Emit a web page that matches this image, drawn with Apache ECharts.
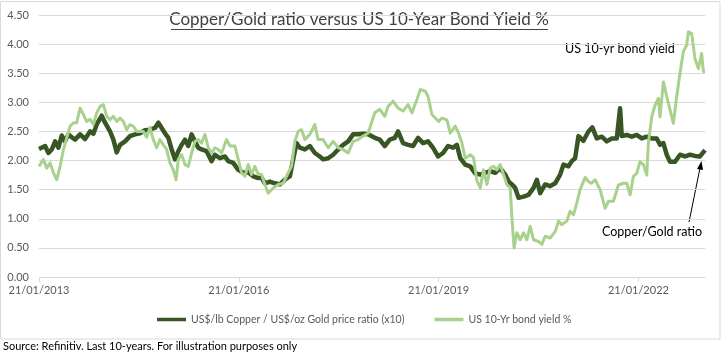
<!DOCTYPE html>
<html>
<head>
<meta charset="utf-8">
<script src="https://cdn.jsdelivr.net/npm/echarts@6/dist/echarts.min.js"></script>
<style>
html,body{margin:0;padding:0;background:#fff;}
#chart{width:725px;height:355px;}
</style>
</head>
<body>
<div id="chart"></div>
<script>
// x = months since 21/01/2013, y = value
const tickMonths = [0, 36, 72, 108];
const tickLabels = ['21/01/2013', '21/01/2016', '21/01/2019', '21/01/2022'];
const copperGoldRatio = [
  [0,2.2],[1.1,2.25],[1.7,2.13],[2.3,2.19],[2.9,2.33],[3.5,2.22],[4.1,2.43],[4.7,2.33],[5.3,2.45],[5.9,2.4],
  [6.5,2.36],[7.4,2.45],[8.3,2.37],[9.2,2.5],[9.8,2.46],[10.4,2.62],[11.3,2.77],[11.9,2.65],[12.8,2.5],[13.4,2.36],
  [14.0,2.14],[14.6,2.27],[15.5,2.33],[16.4,2.42],[17.3,2.45],[18.2,2.47],[19.1,2.52],[20.0,2.53],[20.9,2.56],[21.5,2.65],
  [22.1,2.56],[22.7,2.47],[23.3,2.39],[23.9,2.19],[24.5,2.02],[25.1,2.16],[25.7,2.27],[26.3,2.36],[26.9,2.25],[27.5,2.45],
  [28.1,2.33],[28.7,2.22],[29.3,2.19],[30.2,2.16],[31.1,1.99],[31.7,2.1],[32.6,2.04],[33.5,2.07],[34.1,1.99],[35.0,1.96],
  [35.9,1.84],[36.8,1.79],[37.7,1.8],[38.6,1.73],[39.5,1.7],[39.8,1.75],[40.7,1.61],[41.6,1.64],[42.5,1.61],[43.4,1.59],
  [44.3,1.67],[45.2,1.73],[45.8,2.02],[46.4,2.3],[47.0,2.22],[47.9,2.19],[48.8,2.25],[49.7,2.13],[50.6,2.07],[51.2,2.02],
  [52.1,2.04],[53.0,2.1],[53.9,2.19],[54.8,2.27],[55.7,2.33],[56.6,2.45],[57.5,2.45],[58.4,2.46],[59.3,2.45],[60.5,2.39],
  [61.4,2.36],[62.3,2.25],[63.2,2.36],[64.1,2.39],[64.7,2.5],[65.6,2.3],[66.5,2.27],[67.4,2.25],[68.3,2.39],[69.2,2.3],
  [70.1,2.33],[71.0,2.22],[71.9,2.07],[72.8,2.13],[73.7,2.25],[74.6,2.22],[75.3,2.27],[75.9,2.04],[76.8,1.93],[77.7,1.9],
  [78.6,1.78],[79.5,1.76],[80.4,1.79],[81.3,1.82],[82.2,1.79],[83.1,1.87],[84.0,1.76],[84.6,1.64],[85.2,1.59],[85.8,1.53],
  [86.4,1.36],[87.3,1.38],[88.2,1.41],[89.1,1.53],[89.7,1.67],[90.3,1.44],[91.2,1.59],[92.1,1.56],[93.0,1.61],[93.9,1.76],
  [94.5,1.93],[95.4,1.9],[96.0,1.99],[96.6,2.04],[97.2,2.42],[98.1,2.34],[99.0,2.5],[99.7,2.57],[100.5,2.38],[101.4,2.41],
  [102.3,2.33],[103.2,2.38],[104.1,2.38],[104.4,2.4],[104.7,2.9],[105.0,2.42],[105.9,2.44],[106.8,2.41],[107.7,2.44],[108.6,2.38],
  [109.5,2.41],[110.4,2.38],[111.3,2.38],[111.9,2.27],[112.5,2.3],[113.1,2.1],[113.7,1.98],[114.6,1.98],[115.5,2.1],[116.4,2.07],
  [117.3,2.1],[118.2,2.08],[119.1,2.07],[120.0,2.18]
];
const bondYield = [
  [0,1.9],[0.8,2.02],[1.4,1.87],[2.0,1.96],[2.6,1.79],[3.2,1.67],[3.8,1.9],[4.4,2.19],[5.0,2.39],[5.6,2.59],
  [6.2,2.65],[6.8,2.65],[7.4,2.9],[8.0,2.79],[8.6,2.67],[9.2,2.71],[9.8,2.62],[10.4,2.82],[11.0,2.93],[11.6,2.96],
  [12.2,2.76],[12.8,2.7],[13.4,2.76],[14.0,2.67],[14.6,2.73],[15.2,2.67],[15.8,2.53],[16.4,2.62],[17.0,2.59],[17.6,2.5],
  [18.2,2.5],[18.8,2.5],[19.4,2.4],[20.0,2.57],[20.6,2.36],[21.2,2.22],[21.8,2.36],[22.4,2.27],[23.0,2.19],[23.6,1.96],
  [24.2,1.84],[24.7,1.67],[25.1,2.02],[25.7,2.1],[26.3,1.93],[26.9,1.9],[27.5,2.13],[28.1,2.33],[28.7,2.36],[29.3,2.3],
  [29.9,2.45],[30.5,2.22],[31.1,2.13],[31.7,2.22],[32.3,2.19],[32.9,2.13],[33.8,2.36],[34.4,2.25],[35.3,2.25],[35.9,2.02],
  [36.5,1.79],[37.1,1.73],[37.7,1.93],[38.3,1.76],[38.9,1.9],[39.5,1.76],[40.1,1.76],[40.7,1.59],[41.3,1.44],[42.2,1.53],
  [43.1,1.59],[44.0,1.61],[44.9,1.79],[45.5,1.9],[46.1,2.33],[46.7,2.5],[47.3,2.53],[47.9,2.36],[48.8,2.45],[49.7,2.62],
  [50.3,2.36],[51.2,2.36],[52.1,2.22],[53.0,2.33],[53.9,2.22],[54.8,2.19],[55.7,2.13],[56.6,2.33],[57.5,2.36],[58.4,2.42],
  [59.3,2.47],[59.6,2.45],[60.5,2.82],[61.4,2.88],[62.3,2.76],[62.9,2.93],[63.8,3.02],[64.7,2.9],[65.6,2.85],[66.5,2.96],
  [67.2,2.82],[68.1,3.05],[68.7,3.22],[69.6,3.19],[70.1,3.1],[70.8,2.79],[71.4,2.73],[72.0,2.67],[72.6,2.73],[73.5,2.7],
  [74.1,2.47],[75.0,2.59],[75.6,2.47],[76.2,2.3],[76.8,2.04],[77.7,2.1],[78.3,2.05],[78.9,1.65],[79.5,1.53],[80.1,1.84],
  [80.7,1.59],[81.3,1.87],[81.9,1.9],[82.5,1.84],[83.1,1.93],[83.7,1.76],[84.3,1.59],[84.9,1.53],[85.2,1.04],[85.6,0.5],
  [86.1,0.76],[86.7,0.64],[87.3,0.76],[87.9,0.64],[88.5,0.87],[89.1,0.64],[90.0,0.61],[90.6,0.56],[91.2,0.7],[92.1,0.67],
  [93.0,0.78],[93.6,0.96],[94.2,0.9],[95.1,0.96],[95.7,1.13],[96.3,1.07],[96.9,1.27],[97.5,1.5],[98.4,1.71],[99.0,1.64],
  [99.5,1.61],[100.2,1.67],[101.1,1.5],[102.0,1.18],[102.6,1.3],[103.5,1.3],[104.4,1.58],[105.3,1.61],[105.9,1.61],[106.5,1.41],
  [107.1,1.73],[107.7,1.78],[108.3,1.98],[108.9,1.93],[109.5,1.75],[109.8,2.3],[110.4,2.75],[111.0,2.95],[111.6,3.07],[111.9,2.75],
  [112.5,3.35],[113.1,3.1],[113.7,2.87],[114.3,2.64],[114.9,3.1],[115.5,3.5],[116.1,3.87],[116.7,3.98],[117.0,4.21],[117.6,4.18],
  [118.2,3.75],[118.8,3.58],[119.4,3.84],[119.7,3.53],[120.0,3.53]
];
const seriesNames = ['US$/lb Copper / US$/oz Gold price ratio (x10)', 'US 10-Yr bond yield %'];

const FONT = 'Lato, "Open Sans", sans-serif';
const chart = echarts.init(document.getElementById('chart'), null, {renderer: 'canvas'});
chart.setOption({
  animation: false,
  backgroundColor: '#ffffff',
  grid: {left: 39, right: 20, top: 15, bottom: 78, containLabel: false},
  xAxis: {
    type: 'value',
    min: 0, max: 120, interval: 36,
    axisLine: {show: true, onZero: true, lineStyle: {color: '#d9d9d9', width: 1}},
    axisTick: {show: true, length: 5, customValues: tickMonths, lineStyle: {color: '#d9d9d9'}},
    axisLabel: {
      margin: 8,
      color: '#595959',
      fontSize: 11,
      fontFamily: FONT,
      customValues: tickMonths,
      formatter: v => { const k = tickMonths.indexOf(v); return k >= 0 ? tickLabels[k] : ''; }
    },
    splitLine: {show: false}
  },
  yAxis: {
    type: 'value',
    min: 0, max: 4.5, interval: 0.5,
    axisLine: {show: false},
    axisTick: {show: false},
    axisLabel: {color: '#595959', fontSize: 11, fontFamily: FONT, margin: 10,
      formatter: v => v.toFixed(2)},
    splitLine: {lineStyle: {color: '#d9d9d9', width: 1}}
  },
  legend: {
    bottom: 25,
    left: 152,
    icon: 'rect',
    itemWidth: 29,
    itemHeight: 3.5,
    itemGap: 30,
    textStyle: {color: '#595959', fontSize: 10.5, fontFamily: FONT},
    data: seriesNames
  },
  series: [
    {
      name: seriesNames[0], type: 'line', data: copperGoldRatio,
      showSymbol: false, symbol: 'none',
      lineStyle: {color: '#375623', width: 4.5, join: 'round'},
      itemStyle: {color: '#375623'}
    },
    {
      name: seriesNames[1], type: 'line', data: bondYield,
      showSymbol: false, symbol: 'none',
      lineStyle: {color: '#a9d18e', width: 3, join: 'round'},
      itemStyle: {color: '#a9d18e'}
    }
  ],
  graphic: [
    {type: 'rect', shape: {x: 0.5, y: 1.5, width: 719.5, height: 337.5}, style: {fill: 'none', stroke: '#d9d9d9', lineWidth: 1}, silent: true},
    {type: 'text', x: 359, y: 20, style: {text: 'Copper/Gold ratio versus US 10-Year Bond Yield %', font: '17px ' + FONT, fill: '#404040', align: 'center', verticalAlign: 'middle'}},
    {type: 'line', shape: {x1: 171, y1: 29.5, x2: 548, y2: 29.5}, style: {stroke: '#404040', lineWidth: 1}},
    {type: 'text', x: 565, y: 49, style: {text: 'US 10-yr bond yield', font: '12.5px ' + FONT, fill: '#000000', align: 'left', verticalAlign: 'middle'}},
    {type: 'text', x: 602, y: 232, style: {text: 'Copper/Gold ratio', font: '12.5px ' + FONT, fill: '#000000', align: 'left', verticalAlign: 'middle'}},
    {type: 'line', shape: {x1: 689, y1: 222, x2: 700, y2: 168}, style: {stroke: '#000000', lineWidth: 1}},
    {type: 'polygon', shape: {points: [[701.5, 161], [703, 170], [697, 169]]}, style: {fill: '#000000'}},
    {type: 'text', x: 3, y: 346, style: {text: 'Source: Refinitiv. Last 10-years. For illustration purposes only', font: '11px ' + FONT, fill: '#000000', align: 'left', verticalAlign: 'middle'}}
  ]
});
</script>
</body>
</html>
